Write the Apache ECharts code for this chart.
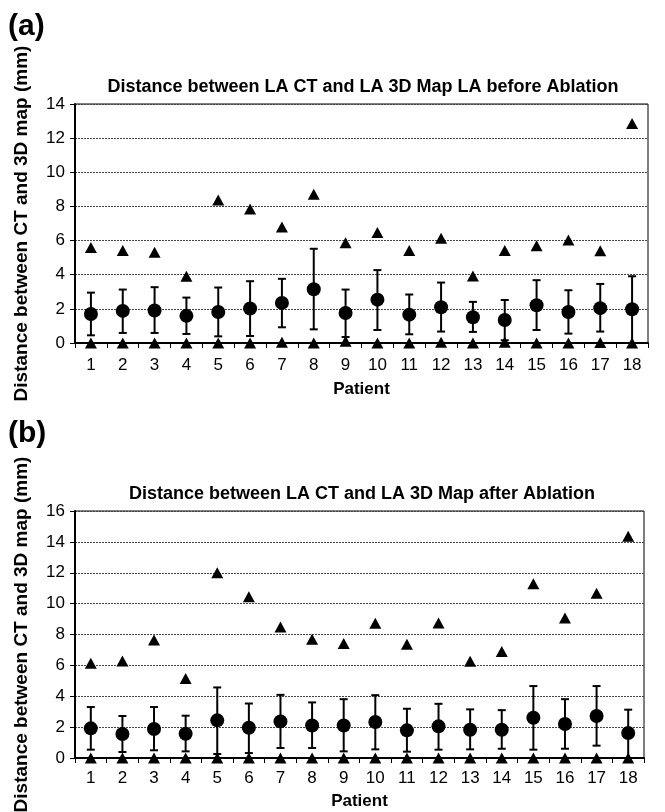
<!DOCTYPE html>
<html><head><meta charset="utf-8">
<script src="https://cdn.jsdelivr.net/npm/echarts@6/dist/echarts.min.js"></script>
<style>html,body{margin:0;padding:0;background:#fff}#c{width:665px;height:812px}</style>
</head><body><div id="c"></div>
<script>
const patients = ['1','2','3','4','5','6','7','8','9','10','11','12','13','14','15','16','17','18'];
const yTicksA = [0,2,4,6,8,10,12,14];
const yTicksB = [0,2,4,6,8,10,12,14,16];

// Panel (a): before ablation
const meanA  = [1.70,1.88,1.90,1.59,1.82,2.02,2.35,3.15,1.76,2.54,1.66,2.09,1.51,1.35,2.21,1.82,2.04,1.98];
const upperA = [2.95,3.13,3.27,2.66,3.25,3.62,3.76,5.52,3.13,4.27,2.84,3.54,2.41,2.52,3.68,3.09,3.46,3.91];
const lowerA = [0.45,0.59,0.59,0.53,0.39,0.41,0.92,0.80,0.35,0.76,0.51,0.67,0.65,0.16,0.76,0.55,0.67,0.00];
const maxA   = [5.60,5.42,5.32,3.91,8.38,7.85,6.79,8.71,5.87,6.48,5.42,6.13,3.93,5.42,5.69,6.03,5.40,12.86];
const minA   = [0.00,0.00,0.00,0.00,0.00,0.00,0.05,0.00,0.10,0.00,0.00,0.05,0.00,0.05,0.00,0.00,0.03,0.00];

// Panel (b): after ablation
const meanB  = [1.92,1.55,1.88,1.57,2.44,1.96,2.37,2.11,2.11,2.33,1.79,2.05,1.83,1.83,2.61,2.20,2.72,1.62];
const upperB = [3.30,2.72,3.30,2.74,4.57,3.53,4.09,3.60,3.81,4.07,3.19,3.51,3.15,3.10,4.66,3.81,4.66,3.13];
const lowerB = [0.54,0.39,0.50,0.43,0.26,0.32,0.65,0.65,0.43,0.56,0.41,0.54,0.56,0.60,0.54,0.60,0.80,0.00];
const maxB   = [6.14,6.29,7.65,5.15,12.00,10.45,8.49,7.69,7.41,8.73,7.37,8.75,6.27,6.90,11.29,9.07,10.67,14.37];
const minB   = [0,0,0,0,0,0,0,0,0,0,0,0,0,0,0,0,0,0];

const FONT = '"Liberation Sans", Arial, sans-serif';

function errData(lo, hi){ return lo.map((l,i)=>[i,l,hi[i]]); }
function pts(v){ return v.map((y,i)=>[i,y]); }

function renderErr(params, api){
  const i = api.value(0);
  const p1 = api.coord([i, api.value(2)]);
  const p0 = api.coord([i, api.value(1)]);
  const w = 4;
  const st = {stroke:'#000', lineWidth:2};
  return {type:'group', children:[
    {type:'line', shape:{x1:p1[0],y1:p1[1],x2:p0[0],y2:p0[1]}, style:st},
    {type:'line', shape:{x1:p1[0]-w,y1:p1[1],x2:p1[0]+w,y2:p1[1]}, style:st},
    {type:'line', shape:{x1:p0[0]-w,y1:p0[1],x2:p0[0]+w,y2:p0[1]}, style:st}
  ]};
}

function xAxis(gi){
  return {
    type:'category', gridIndex:gi, data:patients, boundaryGap:true,
    name:'Patient', nameLocation:'middle', nameGap: gi===0?38:35,
    nameTextStyle:{fontFamily:FONT, fontWeight:'bold', fontSize:17, color:'#000'},
    axisLine:{lineStyle:{color:'#000', width:2}},
    axisTick:{show:true, length:5, lineStyle:{color:'#000', width:1}},
    axisLabel:{fontFamily:FONT, fontSize:17, color:'#000', margin: gi===0?14:12, interval:0},
    splitLine:{show:false}
  };
}
function yAxis(gi, max){
  return {
    type:'value', gridIndex:gi, min:0, max:max, interval:2,
    name:'Distance between CT and 3D map (mm)', nameLocation:'middle', nameRotate:90,
    nameGap:44,
    nameTextStyle:{fontFamily:FONT, fontWeight:'bold', fontSize:19, color:'#000'},
    axisLine:{show:true, lineStyle:{color:'#000', width:2}},
    axisTick:{show:true, length:5, lineStyle:{color:'#000', width:1}},
    axisLabel:{fontFamily:FONT, fontSize:17, color:'#000', margin:10},
    splitLine:{show:true, lineStyle:{color:'#444', type:[2,1], width:1}}
  };
}

function seriesFor(gi, mean, lo, hi, mx, mn){
  return [
    {type:'custom', xAxisIndex:gi, yAxisIndex:gi, renderItem:renderErr, data:errData(lo,hi), z:3, silent:true},
    {type:'scatter', xAxisIndex:gi, yAxisIndex:gi, data:pts(mean), symbol:'circle', symbolSize:14, itemStyle:{color:'#000', opacity:1}, z:4},
    {type:'scatter', xAxisIndex:gi, yAxisIndex:gi, data:pts(mx), symbol:'triangle', symbolSize:[12,11], itemStyle:{color:'#000', opacity:1}, z:4},
    {type:'scatter', xAxisIndex:gi, yAxisIndex:gi, data:pts(mn), symbol:'triangle', symbolSize:[12,11], itemStyle:{color:'#000', opacity:1}, z:4}
  ];
}

const chart = echarts.init(document.getElementById('c'), null, {renderer:'canvas'});
chart.setOption({
  animation:false,
  backgroundColor:'#fff',
  grid:[
    {left:75, top:104, right:17, height:239, show:true, borderColor:'#000', borderWidth:1, containLabel:false, outerBoundsMode:'none'},
    {left:75, top:511, right:21, height:247, show:true, borderColor:'#000', borderWidth:1, containLabel:false, outerBoundsMode:'none'}
  ],
  xAxis:[xAxis(0), xAxis(1)],
  yAxis:[yAxis(0,14), yAxis(1,16)],
  graphic:[
    {type:'text', left:8, top:12, style:{text:'(a)', font:'bold 30px '+FONT, fill:'#000'}},
    {type:'text', left:8, top:419, style:{text:'(b)', font:'bold 30px '+FONT, fill:'#000'}},
    {type:'text', x:363, y:87, style:{text:'Distance between LA CT and LA 3D Map LA before Ablation', font:'bold 18px '+FONT, fill:'#000', textAlign:'center', textVerticalAlign:'middle'}},
    {type:'text', x:362, y:494, style:{text:'Distance between LA CT and LA 3D Map after Ablation', font:'bold 18px '+FONT, fill:'#000', textAlign:'center', textVerticalAlign:'middle'}}
  ],
  series:[].concat(seriesFor(0,meanA,lowerA,upperA,maxA,minA), seriesFor(1,meanB,lowerB,upperB,maxB,minB))
});
</script></body></html>
